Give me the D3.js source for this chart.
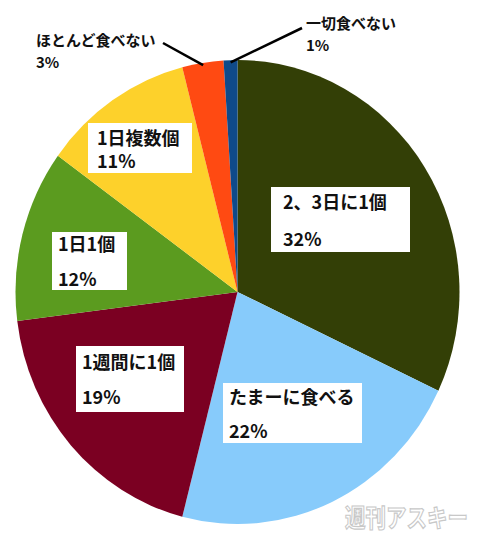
<!DOCTYPE html>
<html>
<head>
<meta charset="utf-8">
<script src="https://cdn.jsdelivr.net/npm/d3@7"></script>
<style>
  body { margin: 0; background: #fff; }
  text { font-family: "Noto Sans CJK JP", "Noto Sans", sans-serif; font-weight: bold; }
</style>
</head>
<body>
<svg id="chart" width="488" height="548"></svg>
<script>
// data
const categories = ['2、3日に1個', 'たまーに食べる', '1週間に1個', '1日1個', '1日複数個', 'ほとんど食べない', '一切食べない'];
const values = [32, 22, 19, 12, 11, 3, 1];
const colors = ['#333f06', '#87cbfb', '#7b0022', '#5b9b1f', '#fdd12b', '#ff4a12', '#0f4a8a'];

// label boxes — inside labels get a white box, outside ones get leader lines
const labelLayout = [
  {x: 271, y: 187, w: 139, h: 65, b1: 209, b2: 246, tx: 283},
  {x: 223, y: 383, w: 139, h: 60, b1: 404, b2: 438, tx: 229},
  {x: 76, y: 346, w: 108, h: 66, b1: 369, b2: 404, tx: 82},
  {x: 52, y: 232, w: 75, h: 58, b1: 251, b2: 286, tx: 58},
  {x: 88, y: 123, w: 104, h: 50, b1: 145, b2: 168, tx: 97},
  {outside: true, tx: 36, b1: 46, b2: 68, lx: 163, ly: 43},
  {outside: true, tx: 306, b1: 29, b2: 51, lx: 302, ly: 28}
];

const cx = 237.5, cy = 292, rx = 222, ry = 232;

const svg = d3.select('#chart');

const pie = d3.pie().sort(null).value(d => d)(values);
const arc = d3.arc().innerRadius(0).outerRadius(rx);

const g = svg.append('g')
  .attr('transform', `translate(${cx},${cy}) scale(1,${ry / rx})`);

g.selectAll('path')
  .data(pie)
  .enter().append('path')
  .attr('d', arc)
  .attr('fill', (d, i) => colors[i]);

// leader lines for the thin slices
const edgeArc = d3.arc().innerRadius(rx * 0.99).outerRadius(rx * 0.99);
pie.forEach((d, i) => {
  const L = labelLayout[i];
  if (!L.outside) return;
  const c = edgeArc.centroid(d);
  svg.append('line')
    .attr('x1', L.lx).attr('y1', L.ly)
    .attr('x2', cx + c[0]).attr('y2', cy + c[1] * ry / rx)
    .attr('stroke', '#000')
    .attr('stroke-width', 2.5);
});

const lab = svg.selectAll('g.lab')
  .data(pie)
  .enter().append('g')
  .attr('class', 'lab');

lab.filter((d, i) => !labelLayout[i].outside)
  .append('rect')
  .attr('x', (d, i) => labelLayout[i].x)
  .attr('y', (d, i) => labelLayout[i].y)
  .attr('width', (d, i) => labelLayout[i].w)
  .attr('height', (d, i) => labelLayout[i].h)
  .attr('fill', '#fff');

lab.append('text')
  .attr('x', (d, i) => labelLayout[i].tx)
  .attr('y', (d, i) => labelLayout[i].b1)
  .attr('font-size', (d, i) => labelLayout[i].outside ? 15 : 18)
  .attr('fill', '#111')
  .text((d, i) => categories[i]);

lab.append('text')
  .attr('x', (d, i) => labelLayout[i].tx)
  .attr('y', (d, i) => labelLayout[i].b2)
  .attr('font-size', (d, i) => labelLayout[i].outside ? 15 : 18)
  .attr('fill', '#111')
  .text((d, i) => d.value + '%');

// watermark
svg.append('text')
  .attr('x', 345).attr('y', 527)
  .attr('textLength', 123)
  .attr('lengthAdjust', 'spacingAndGlyphs')
  .attr('font-size', 25)
  .attr('font-weight', 900)
  .attr('fill', '#fff')
  .attr('stroke', '#c8c8c8')
  .attr('stroke-width', 1.2)
  .text('週刊アスキー');
</script>
</body>
</html>
